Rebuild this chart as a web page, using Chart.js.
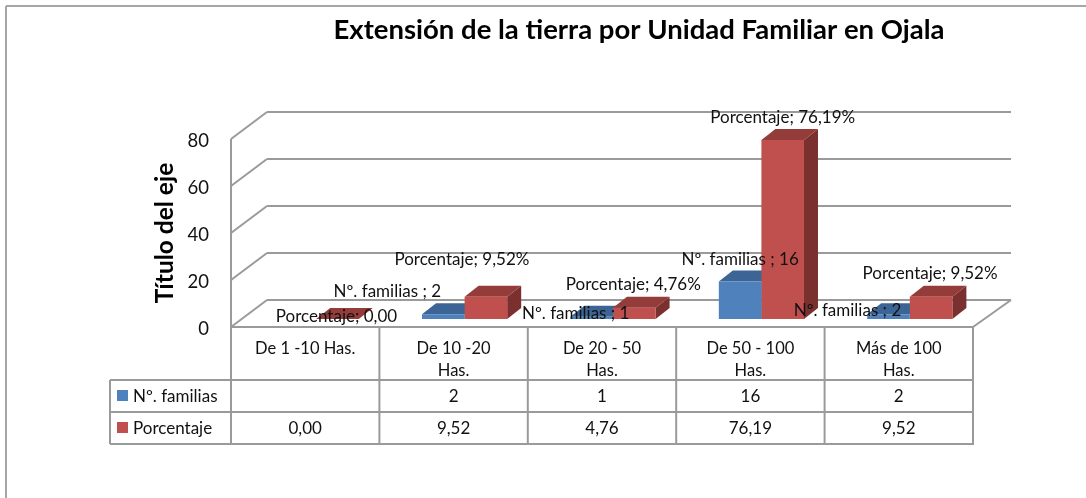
<!DOCTYPE html>
<html>
<head>
<meta charset="utf-8">
<script src="https://cdn.jsdelivr.net/npm/chart.js@4"></script>
<style>
  html, body { margin: 0; padding: 0; background: #fff; }
  #wrap { width: 1086px; height: 498px; }
</style>
</head>
<body>
<div id="wrap"><canvas id="myChart"></canvas></div>
<script>
// datos
var categorias = [["De 1 -10 Has."], ["De 10 -20", "Has."], ["De 20 - 50", "Has."], ["De 50 - 100", "Has."], ["Más de 100", "Has."]];
var familias = [null, 2, 1, 16, 2];
var porcentaje = [0, 9.52, 4.76, 76.19, 9.52];
var yTicks = [0, 20, 40, 60, 80];

var FONT = "Lato";
var GRID = "#9a9a9a";
// perspectiva del piso y de las barras
var DEPTH_X = 36, DEPTH_Y = -27;
var BAR_X = 11, BAR_Y = -8, BAR_DX = 14, BAR_DY = -11;
var TABLE_ROWS = [380, 412, 444], TABLE_LEFT = 110;

// desplazamiento de cada etiqueta respecto a su barra
var offsets = [
  [null, [-45, -31], [-5, -11], [11, -30], [-30, -12]],
  [[10, -10], [-13, -45], [10, -31], [11, -30], [10, -31]]
];
var faces = [
  { top: "#3c6494", side: "#335a87" },
  { top: "#933c39", side: "#7a302e" }
];

function line(ctx, x1, y1, x2, y2) {
  ctx.beginPath();
  ctx.moveTo(x1, y1);
  ctx.lineTo(x2, y2);
  ctx.stroke();
}

function poly(ctx, pts, color) {
  ctx.fillStyle = color;
  ctx.beginPath();
  pts.forEach(function(p, i) { i ? ctx.lineTo(p[0], p[1]) : ctx.moveTo(p[0], p[1]); });
  ctx.closePath();
  ctx.fill();
}

function etiqueta(d, v) {
  if (d == 0) return "Nº. familias ; " + v;
  return v == 0 ? "Porcentaje; 0,00" : "Porcentaje; " + v.toFixed(2).replace(".", ",") + "%";
}

var chart3d = {
  id: "chart3d",
  afterLayout: function(chart) {
    // el titulo no va centrado en el lienzo
    chart.titleBlock.left = 333;
    chart.titleBlock.right = 945;
    // los numeros del eje van 2px mas abajo
    var y = chart.scales.y;
    if (!y.movido) {
      var drawLabels = y.drawLabels;
      y.drawLabels = function(area) {
        chart.ctx.save();
        chart.ctx.translate(0, 2);
        drawLabels.call(y, area);
        chart.ctx.restore();
      };
      y.movido = true;
    }
  },
  beforeDraw: function(chart) {
    var ctx = chart.ctx, a = chart.chartArea, y = chart.scales.y;
    ctx.save();
    ctx.strokeStyle = "#a6a6a6";
    ctx.lineWidth = 2;
    line(ctx, 6, 6, chart.width, 6);
    line(ctx, 6, 6, 6, chart.height);

    // paredes y piso
    ctx.strokeStyle = GRID;
    yTicks.forEach(function(t) {
      var py = y.getPixelForValue(t);
      line(ctx, a.left, py, a.left + DEPTH_X, py + DEPTH_Y);
      line(ctx, a.left + DEPTH_X, py + DEPTH_Y, a.right + DEPTH_X + 2, py + DEPTH_Y);
    });
    line(ctx, a.left, a.top, a.left, a.bottom);
    line(ctx, a.right, a.bottom, a.right + DEPTH_X + 2, a.bottom + DEPTH_Y);
    ctx.restore();
  },
  beforeDatasetsDraw: function(chart) {
    var ctx = chart.ctx;
    ctx.save();
    ctx.translate(BAR_X, BAR_Y);
    chart.data.datasets.forEach(function(ds, d) {
      chart.getDatasetMeta(d).data.forEach(function(bar, i) {
        if (ds.data[i] === null) return;
        var l = bar.x - bar.width / 2, r = bar.x + bar.width / 2, t = bar.y, b = bar.base;
        poly(ctx, [[r, t], [r + BAR_DX, t + BAR_DY], [r + BAR_DX, b + BAR_DY], [r, b]], faces[d].side);
        poly(ctx, [[l, t], [l + BAR_DX, t + BAR_DY], [r + BAR_DX, t + BAR_DY], [r, t]], faces[d].top);
      });
    });
  },
  afterDatasetsDraw: function(chart) {
    chart.ctx.restore();
  },
  afterDraw: function(chart) {
    var ctx = chart.ctx, a = chart.chartArea, x = chart.scales.x;
    var step = (a.right - a.left) / categorias.length;
    ctx.save();

    // tabla de datos
    ctx.strokeStyle = GRID;
    ctx.lineWidth = 2;
    line(ctx, a.left - 1, a.bottom, a.right + 1, a.bottom);
    TABLE_ROWS.forEach(function(r) { line(ctx, TABLE_LEFT, r, a.right + 1, r); });
    line(ctx, TABLE_LEFT, TABLE_ROWS[0], TABLE_LEFT, TABLE_ROWS[2]);
    for (var c = 0; c <= categorias.length; c++) {
      line(ctx, a.left + c * step, a.bottom, a.left + c * step, TABLE_ROWS[2]);
    }

    ctx.font = "17px " + FONT;
    ctx.textBaseline = "middle";
    chart.data.datasets.forEach(function(ds, d) {
      var cy = (TABLE_ROWS[d] + TABLE_ROWS[d + 1]) / 2 + 1;
      ctx.fillStyle = ds.backgroundColor;
      ctx.fillRect(TABLE_LEFT + 7, cy - 7, 11, 11);
      ctx.fillStyle = "#111";
      ctx.textAlign = "left";
      ctx.fillText(ds.label, TABLE_LEFT + 23, cy);
      ctx.textAlign = "center";
      ds.data.forEach(function(v, i) {
        if (v === null) return;
        ctx.fillText(d == 0 ? String(v) : v.toFixed(2).replace(".", ","), x.getPixelForValue(i), cy);
      });
    });

    // etiquetas de datos
    chart.data.datasets.forEach(function(ds, d) {
      chart.getDatasetMeta(d).data.forEach(function(bar, i) {
        if (ds.data[i] === null) return;
        ctx.fillText(etiqueta(d, ds.data[i]), bar.x + offsets[d][i][0], bar.y + offsets[d][i][1]);
      });
    });
    ctx.restore();
  }
};

new Chart(document.getElementById("myChart").getContext("2d"), {
  type: "bar",
  data: {
    labels: categorias,
    datasets: [
      { label: "Nº. familias", data: familias, backgroundColor: "#4f81bd" },
      { label: "Porcentaje", data: porcentaje, backgroundColor: "#c0504d" }
    ]
  },
  options: {
    responsive: true,
    maintainAspectRatio: false,
    animation: false,
    layout: { padding: { left: 150, right: 113, top: 0, bottom: 118 } },
    datasets: { bar: { categoryPercentage: 0.574, barPercentage: 1, clip: false } },
    plugins: {
      legend: { display: false },
      tooltip: { enabled: false },
      title: {
        display: true,
        text: "Extensión de la tierra por Unidad Familiar en Ojala",
        color: "#000",
        font: { family: FONT, size: 27.5, weight: "bold" },
        padding: { top: 14, bottom: 92 }
      }
    },
    scales: {
      x: {
        grid: { display: false },
        border: { display: false },
        ticks: { color: "#111", font: { family: FONT, size: 16.5, lineHeight: 1.3 }, padding: 3, maxRotation: 0, autoSkip: false },
        afterFit: function(s) { s.height = 53; }
      },
      y: {
        min: 0,
        max: 80,
        grid: { display: false },
        border: { display: false },
        afterBuildTicks: function(s) { s.ticks = yTicks.map(function(v) { return { value: v }; }); },
        ticks: { color: "#111", font: { family: FONT, size: 18.5 }, padding: 14 },
        title: {
          display: true,
          text: "Título del eje",
          color: "#000",
          font: { family: FONT, size: 24.5, weight: "bold" },
          padding: 0
        },
        afterFit: function(s) { s.width = 81; }
      }
    }
  },
  plugins: [chart3d]
});
</script>
</body>
</html>
